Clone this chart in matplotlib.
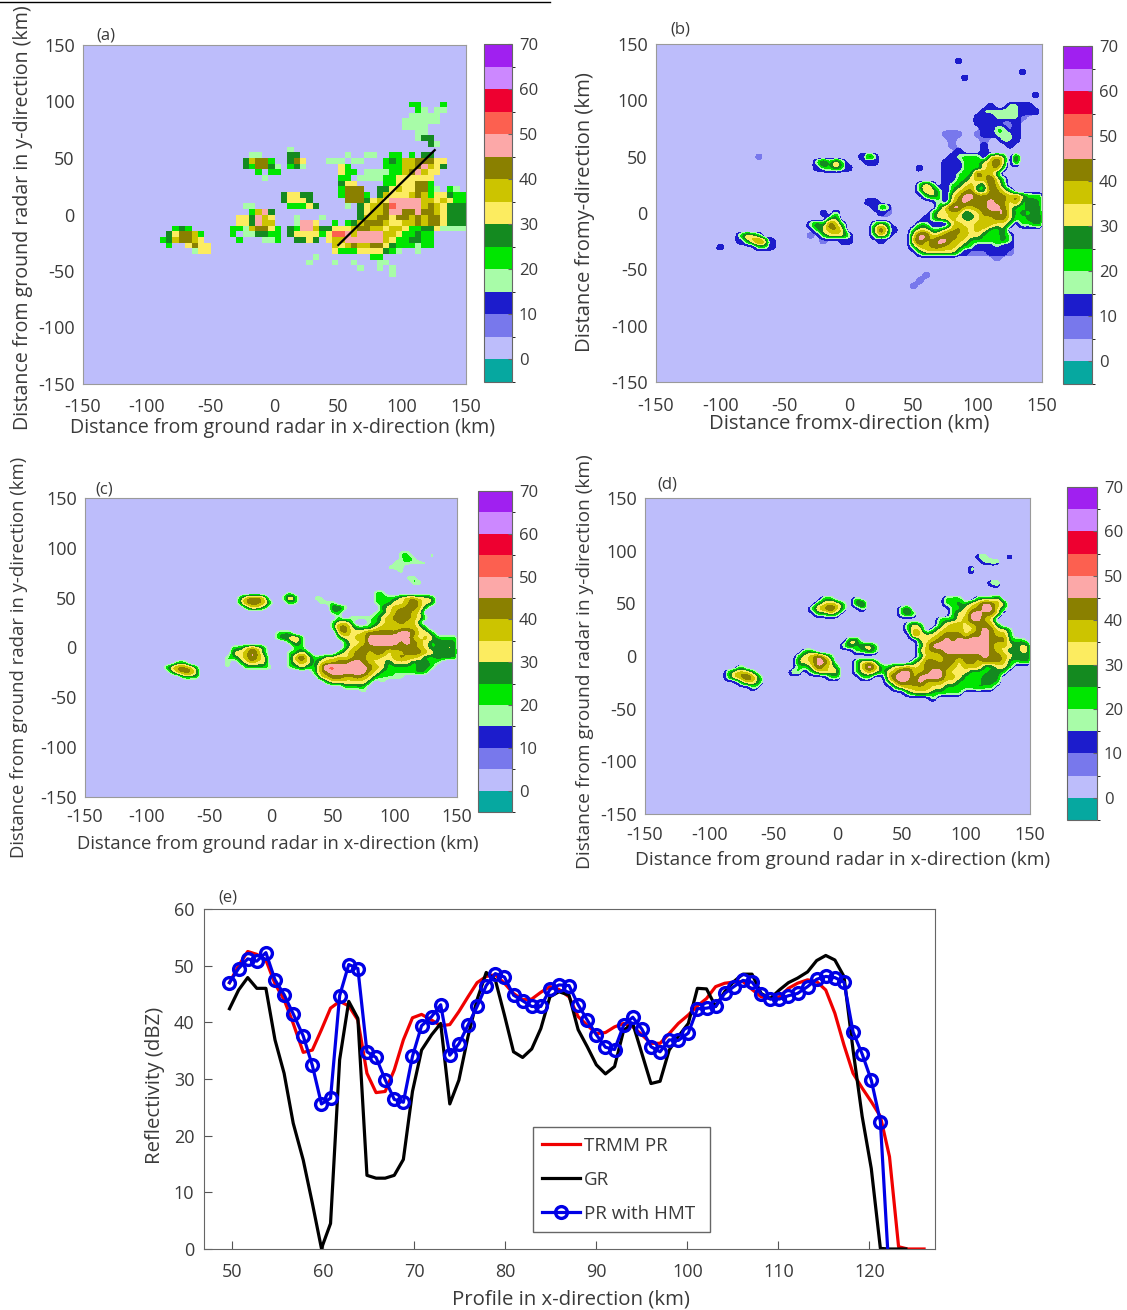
import numpy as np
import matplotlib
matplotlib.use('Agg')
import matplotlib.pyplot as plt
from matplotlib.colors import ListedColormap, BoundaryNorm
from matplotlib.cm import ScalarMappable
from matplotlib.lines import Line2D

W, H = 1127, 1310
plt.rcParams['font.family'] = ['Open Sans', 'DejaVu Sans']
plt.rcParams['axes.unicode_minus'] = False
INK = '#3a3a3a'

# reflectivity classes, 5 dBZ wide
dbz_edges = [-5, 0, 5, 10, 15, 20, 25, 30, 35, 40, 45, 50, 55, 60, 65, 70]
dbz_colors = ['#06a8a0', '#bdbdfb', '#7878ec', '#1c1ccc', '#a8fca8', '#00e600', '#148a20', '#fcec60',
              '#ccc400', '#8a8000', '#fca8a8', '#fc6050', '#ee0030', '#cc88ff', '#a020f0']
dbz_ticks = [0, 10, 20, 30, 40, 50, 60, 70]
map_ticks = [-150, -100, -50, 0, 50, 100, 150]
code_dbz = {'m': 7.5, 'b': 12.5, 'a': 19.5, 'g': 22.5, 'd': 27.5, 'y': 32.5, 'o': 37.5, 'k': 42.5, 'p': 47.5, 'r': 52.5}

# rows of 5 km samples, north to south, first column x=-105 km
# a number skips that many 25 km blocks
panel_a_top = 95
panel_a_rows = [
    "8 ..gg. ..g..", "8 ...ga .aa..", "8 ..aaa aa...", "8 .aaaa aa...", "8 .aaaa", "8 ...aa",
    "8 ...ad d....", "9 da...", "4 ...a.",
    "3 ..aa. ...dd ..... ..a.. aa..g g.g.d d....",
    "3 .dokk g..dk y...a aa.aa ...gd gookk kyy..",
    "3 .dgkk da.gd a.... .yg.. ...gg gookp oyd..",
    "3 ...g. gg... ..... .ygg. aaaag gokpo yy...",
    "3 ....a ..... ..... .gg.a aaagg yyyyy y....",
    "6 .dyy. ...gg yyykk g....",
    "6 .gkkk ..ddy oyykk ga.ga",
    "4 ..dyy dd... .gkkk g.doy yyoko gyydg g",
    "4 ..dyy yd... ..kkk dyoyp ppppo oyoyg g",
    "3 .aa.. ...gg gyd.. ..a.d yookr ppppo koydd d",
    "3 ..gop d.... ..... ....d yookp pkkpk koydd d",
    "3 yydpo y...a ...a. ....d ookky kkoko kkydd d",
    "3 yydpo o...a ppy.. g.gdo kkkoy yooko kkydd d",
    "1 gdg.. ....g gaokk yg.dg ppodd yyyok kooyo oyggd dyaaa a",
    "....d ykkog ....g .aadd gg.dy yyygy rrpop pppoo yggdg g....",
    "...gd okkoy ..... g...a ag..d dyd.y ooppp pppoy ggddg g....",
    "....g ..yky y.... 3 oyoko okkyd gggag g....",
    "1 ...ay y.... 3 ygggy yyydg a..a.",
    "5 ..a.. 1 .gg..",
    "5 .a... a..a. ..aa.",
    "6 ....a ..a.a",
    "7 ....a",
]

panel_b_top = 135
panel_b_rows = [
    "7 ...b.", "", "9 ...a.", "7 ....b", "", "", "10 b", "",
    "8 ...b. .aabb",
    "8 ..aaa aaabb b",
    "8 .bbba aaam.",
    "8 .bbbb mmb..",
    "8 ..bbg amb..",
    "7 .mmm. .mbba aab..",
    "7 ..m.. ..m.. aab..",
    "7 ..m.. ..b.. .b...",
    "7 ...b. ..b..",
    "1 ..m.. 2 ...bo g.... 1 ..bgg gg.yo y.o..",
    "3 .gogo g...b b.... 1 .bbbg ggyop y.y..",
    "3 .bggy gb... 1 ..g.. .bbbg gayok g....",
    "7 .bbag gpoog",
    "7 .bbgg yoopy g....",
    "6 ..gog .bggy odgpo g....",
    "6 ..goy gbgyo kggkk yg...",
    "6 ...gy gbyop pkkkk kokyg gg",
    "4 ....g b.... 1 gbykp kkkpk kykgd dg",
    "5 byg.. 1 goppo okkpp kyggd dg",
    "3 ..b.g 1 .bm.. ....g yyoog dykkk pygdg dd",
    "3 ...gy 2 ...bg yyoyd dyook kyggd dd",
    "3 gygpo g.... gyg.. ..ggb bbyoy yokoy yg.ga dd",
    "3 .gyok y.... ypyb. .gyyg gyoko yoyga y....",
    "....g oyg.. 1 m.gyy yg... gog.. .yppy okpoo yyggg da...",
    "....b gopob 1 ..m.. bb... .b... .opok ppooy ggggg da...",
    ".g... ..ggb 4 .gook kooyg gbbba bb...",
    "6 ..gyy yyygb mmmbb bm...",
    "8 ....m",
    "", "",
    "6 ...m.", "6 ..m..", "6 .m...",
]

panel_c_top = 95
panel_c_rows = [
    "8 ..ag. ..a..", "8 ..aga ..a..", "8 .aaaa aa...", "8 aaa..", "8 ..a..", "8 ...ag", "8 ....g g....", "",
    "4 ....a 2 ...gg",
    "3 .gokk y..go d..aa 1 ...gg ggyoo yyd..",
    "3 .dkkk og..d a...a aa... ...gg gyyop oyy..",
    "3 ..goy g.... 1 .yyg. ....d yookk og...",
    "6 .gg.. ...ag yopko y....",
    "6 ..g.a aaagy okkko yg...",
    "6 .gyog ..agy ookoo g....",
    "6 .gkky gggyo oyooo yg.a.",
    "4 ..agg 1 ..oky yokkk kkppk yyg..",
    "4 ..gyy og... ..gyy ooppp ppppo yoygg gg",
    "4 ....g yg... ...gy yoppp ppkpk oygdd dg",
    "3 ggyoy g.... gg... ...gy okkkk kkkkk oygdd yg",
    "3 yyopo g...g gyg.. ..gyo kkokk yookk koydd dd",
    "2 ....g gyopo y...g opygg yyoyo kkyoy yokoo yggdd dg",
    "1 .gg.. ....g .gyoy y...g yoygy ookkp pkoyy gyyyg ddga.",
    "....g okkog ....a ..ggg ga..a gyggo rrppp ppkoy ggggg ddg..",
    "1 gokky 3 ...go kpppp ppoyg gaagg dg...",
    "1 ..ggg 3 ....y okkoo koyga aaa..",
    "6 gyyyy yyg.a",
    "6 ...gg gg...",
    "7 .a...",
]

panel_d_top = 95
panel_d_rows = [
    "8 ...ag ...g.", "8 ....a gg...", "8 ..a..", "8 ..a..", "", "9 gg...", "9 .b...", "",
    "3 ....g g...g 2 ...gg g..gg gy...",
    "3 ...gy oyg.y o.... 1 ...gg dgyop koy..",
    "3 ..gok pog.. g.... .gy.. ....g gyokp pyg..",
    "3 ...gg yg... 1 .gyg. ....g yyppk ky...",
    "7 ..ggg yoppo y....",
    "6 ..gyg ..gyo oyokk og...",
    "6 ..goy .gyoo oyykp kyya.",
    "6 ...py yyokk kykkp koog.",
    "4 ...yy 1 ....y yokpk ppppp kkkgg g",
    "4 ..gyg yyg.. ....g opppp ppppp kyoyd yd",
    "3 .gg.. ....g gyg.. ....y okkpp ppppp koygd yd",
    "3 gyopy g.... 1 ....g oyokk kkkkp kkoyd dd",
    "3 yyopp y...g yyg.. ...gy kkokk ykkok kkogg dd",
    "1 .g... 1 ggypo yg..g orogg yyoyo kkkko yooog gyyg.",
    "....g yoyg. ....g g.gyo yy..g yoygy oppoo kppoy yyggg ddg..",
    "....g okpog 2 gg... gg..o pppop pppoo ygagd dd...",
    "1 .goyg 3 ....g opkkp oooyy ggagd dg...",
    "1 ...g. 4 gyooo oyygg gggdg g....",
    "6 ..gyy ygggg g....",
    "7 .g...",
]

# end points of the profile drawn on panel (a)
profile_x = [50, 125.5]
profile_y = [-27, 57]

# panel (e)
km = [49.7, 50.7, 51.7, 52.7, 53.7, 54.7, 55.7, 56.7, 57.8, 58.8, 59.8, 60.8, 61.8, 62.8, 63.8, 64.8, 65.8, 66.8,
      67.8, 68.8, 69.8, 70.8, 71.9, 72.9, 73.9, 74.9, 75.9, 76.9, 77.9, 78.9, 79.9, 80.9, 81.9, 82.9, 83.9, 84.9,
      85.9, 87.0, 88.0, 89.0, 90.0, 91.0, 92.0, 93.0, 94.0, 95.0, 96.0, 97.0, 98.0, 99.0, 100.1, 101.1, 102.1,
      103.1, 104.1, 105.1, 106.1, 107.1, 108.1, 109.1, 110.1, 111.1, 112.1, 113.2, 114.2, 115.2, 116.2, 117.2,
      118.2, 119.2, 120.2, 121.2]
hmt = [47.0, 49.5, 51.2, 50.8, 52.3, 47.5, 44.9, 41.5, 37.6, 32.4, 25.6, 26.6, 44.7, 50.2, 49.5, 34.8, 33.8, 29.9,
       26.4, 25.9, 34.0, 39.4, 41.0, 43.1, 34.2, 36.2, 39.5, 42.8, 46.5, 48.6, 48.0, 44.8, 43.8, 42.8, 42.8, 45.8,
       46.6, 46.5, 43.1, 40.4, 37.8, 35.6, 35.2, 39.5, 40.9, 38.8, 35.7, 34.8, 36.9, 36.8, 38.1, 42.4, 42.5, 42.8,
       45.1, 46.3, 47.4, 47.1, 45.0, 44.1, 44.1, 44.7, 45.1, 46.3, 47.6, 48.1, 47.9, 47.1, 38.3, 34.4, 29.8, 22.5]
gr = [42.4, 45.7, 47.9, 46.0, 46.0, 36.9, 31.0, 22.2, 15.7, 8.1, 0.1, 4.5, 33.4, 43.7, 40.7, 13.0, 12.5, 12.5,
      13.0, 15.8, 27.8, 35.1, 37.8, 39.8, 25.6, 29.8, 37.5, 44.0, 48.8, 47.5, 41.3, 34.8, 33.8, 35.3, 38.9, 44.5,
      45.4, 44.8, 38.7, 35.7, 32.5, 30.9, 32.2, 38.6, 39.8, 34.5, 29.2, 29.6, 35.1, 37.5, 39.8, 46.0, 45.9, 42.8,
      45.4, 47.2, 48.5, 48.5, 45.1, 44.2, 45.7, 47.0, 47.8, 48.9, 50.9, 51.8, 51.0, 48.1, 35.1, 23.4, 14.2, 0.1]
pr = [47.0, 50.0, 52.5, 52.0, 51.0, 46.8, 44.0, 39.8, 34.7, 35.1, 38.7, 42.5, 43.7, 42.9, 40.4, 31.0, 27.6, 27.8,
      31.6, 36.9, 40.8, 41.4, 40.4, 39.4, 39.6, 41.9, 44.5, 47.0, 48.1, 48.4, 46.9, 45.1, 44.0, 44.1, 45.3, 46.3,
      45.8, 44.5, 41.0, 39.5, 38.0, 38.2, 39.2, 39.8, 39.2, 37.8, 36.3, 36.3, 38.0, 39.8, 41.3, 42.9, 44.2, 46.3,
      46.9, 47.1, 47.2, 45.8, 44.5, 44.2, 44.5, 46.0, 46.9, 47.5, 47.2, 45.7, 41.6, 36.0, 31.0, 28.4, 26.0, 23.4]
hmt_end_km, hmt_end = [122.0], [0]
gr_end_km, gr_end = [122.2, 124.0], [0, 0]
pr_end_km, pr_end = [122.2, 123.2, 124.2, 125.2, 126.0], [16.3, 0.4, 0, 0, 0]


def decode(rows, top):
    field = np.full((61, 61), 2.5)
    for i, row in enumerate(rows):
        iy = (top - 5 * i + 150) // 5
        col = 9
        for tok in row.split():
            if tok.isdigit():
                col += 5 * int(tok)
                continue
            for ch in tok:
                if ch != '.':
                    field[iy, col] = code_dbz[ch]
                col += 1
    return field


# 1 km version of a 5 km field, box filtered so the contours come out round
fine = np.arange(-150, 151, 1.0)


def smooth(field):
    out = np.array([np.interp(fine, grid, r) for r in field])
    out = np.array([np.interp(fine, grid, c) for c in out.T]).T
    box = np.ones(5) / 5
    out = np.array([np.convolve(r, box, mode='same') for r in out])
    out = np.array([np.convolve(c, box, mode='same') for c in out.T]).T
    return out


def px_axes(l, t, r, b):
    return fig.add_axes([l / W, 1 - b / H, (r - l) / W, (b - t) / H])


def px_text(x, y, s, **kw):
    fig.text(x / W, 1 - y / H, s, color=INK, **kw)


def map_axes(box, cbox, pad):
    ax = px_axes(*box)
    ax.set_facecolor(dbz_colors[1])
    ax.set_xlim(-150, 150)
    ax.set_ylim(-150, 150)
    ax.set_xticks(map_ticks)
    ax.set_yticks(map_ticks)
    ax.tick_params(length=0, labelsize=13, labelcolor=INK)
    ax.tick_params(axis='x', pad=pad)
    ax.tick_params(axis='y', pad=6)
    for s in ax.spines.values():
        s.set_color('#9a9a9a')
        s.set_linewidth(0.8)
    cax = px_axes(*cbox)
    cb = fig.colorbar(ScalarMappable(norm=norm, cmap=cmap), cax=cax, ticks=dbz_ticks)
    cb.outline.set_edgecolor('#666666')
    cb.outline.set_linewidth(0.8)
    cax.tick_params(length=3, direction='in', color='#666666', labelsize=12, labelcolor=INK, pad=5)
    return ax


cmap = ListedColormap(dbz_colors)
norm = BoundaryNorm(dbz_edges, cmap.N)
grid = np.arange(-150, 155, 5)

fig = plt.figure(figsize=(W / 100, H / 100), dpi=100)
fig.add_artist(Line2D([0, 550 / W], [1 - 1.5 / H, 1 - 1.5 / H], color='black', lw=1))

# (a)
ax = map_axes((83, 45, 466, 384), (484, 44, 512, 382), 10)
ax.pcolormesh(grid, grid, decode(panel_a_rows, panel_a_top)[:-1, :-1], cmap=cmap, norm=norm)
ax.plot(profile_x, profile_y, color='black', lw=1.6)
px_text(283, 428, 'Distance from ground radar in x-direction (km)', fontsize=14.1, ha='center', va='center')
px_text(23, 218, 'Distance from ground radar in y-direction (km)', fontsize=14.1, ha='center', va='center', rotation=90)
px_text(96, 35, '(a)', fontsize=12, ha='left', va='center')

# (b)
ax = map_axes((656, 44, 1042, 382), (1063, 46, 1092, 384), 11)
field_b = decode(panel_b_rows, panel_b_top)
ax.contourf(fine, fine, smooth((field_b >= 7) * 1.0), levels=[0.4, 2], colors=[dbz_colors[2]])
ax.contourf(fine, fine, smooth((field_b >= 12) * 1.0), levels=[0.4, 2], colors=[dbz_colors[3]])
high_b = smooth(np.where(field_b < 15, 2.5, field_b))
ax.contourf(fine - 1, fine - 1, high_b, levels=[12, 100], colors=[dbz_colors[3]])
ax.contourf(fine, fine, high_b, levels=dbz_edges[4:], colors=dbz_colors[4:])
px_text(849, 424, 'Distance fromx-direction (km)', fontsize=14.6, ha='center', va='center')
px_text(585, 212, 'Distance fromy-direction (km)', fontsize=14.6, ha='center', va='center', rotation=90)
px_text(670, 29, '(b)', fontsize=12, ha='left', va='center')

# (c)
ax = map_axes((85, 498, 457, 797), (478, 491, 512, 812), 8)
ax.contourf(fine, fine, smooth(decode(panel_c_rows, panel_c_top)), levels=dbz_edges[4:], colors=dbz_colors[4:])
px_text(278, 844, 'Distance from ground radar in x-direction (km)', fontsize=13.3, ha='center', va='center')
px_text(19, 657, 'Distance from ground radar in y-direction (km)', fontsize=13.3, ha='center', va='center', rotation=90)
px_text(95, 489, '(c)', fontsize=12, ha='left', va='center')

# (d)
ax = map_axes((645, 498, 1030, 814), (1067, 487, 1097, 820), 9)
field_d = smooth(decode(panel_d_rows, panel_d_top))
ax.contourf(fine - 1, fine - 1, field_d, levels=[12, 100], colors=[dbz_colors[3]])
ax.contourf(fine, fine, field_d, levels=dbz_edges[4:], colors=dbz_colors[4:])
px_text(843, 860, 'Distance from ground radar in x-direction (km)', fontsize=13.8, ha='center', va='center')
px_text(585, 662, 'Distance from ground radar in y-direction (km)', fontsize=13.8, ha='center', va='center', rotation=90)
px_text(657, 484, '(d)', fontsize=12, ha='left', va='center')

# (e)
ax = px_axes(204, 909, 935, 1249)
ax.plot(km + pr_end_km, pr + pr_end, color='#f00000', lw=2.3, label='TRMM PR')
ax.plot(km + gr_end_km, gr + gr_end, color='black', lw=2.3, label='GR')
ax.plot(km + hmt_end_km, hmt + hmt_end, color='#0000e6', lw=2.3, marker='o', ms=8.5, mfc='none', mew=2.4,
        markevery=list(range(len(km))), label='PR with HMT')
ax.set_xlim(46.9, 127.2)
ax.set_ylim(0, 60)
ax.set_xticks(range(50, 130, 10))
ax.set_yticks(range(0, 70, 10))
ax.tick_params(direction='in', length=6, width=0.8, color='#555555', labelsize=13, labelcolor=INK)
ax.tick_params(axis='x', pad=10)
ax.tick_params(axis='y', pad=7)
for s in ax.spines.values():
    s.set_color('#666666')
    s.set_linewidth(0.8)
ax.legend(loc='lower left', bbox_to_anchor=((533 - 204) / 731, (1249 - 1232) / 340, 177 / 731, 105 / 340), mode='expand',
          borderaxespad=0, fontsize=13.5, frameon=True, fancybox=False, framealpha=1, edgecolor='#666666',
          handlelength=2.0, handletextpad=0.2, labelspacing=0.85, borderpad=0.5, labelcolor=INK)
px_text(571, 1299, 'Profile in x-direction (km)', fontsize=14.7, ha='center', va='center')
px_text(155, 1085, 'Reflectivity (dBZ)', fontsize=14.7, ha='center', va='center', rotation=90)
px_text(218, 897, '(e)', fontsize=12, ha='left', va='center')

fig.savefig('out.png', dpi=100)
